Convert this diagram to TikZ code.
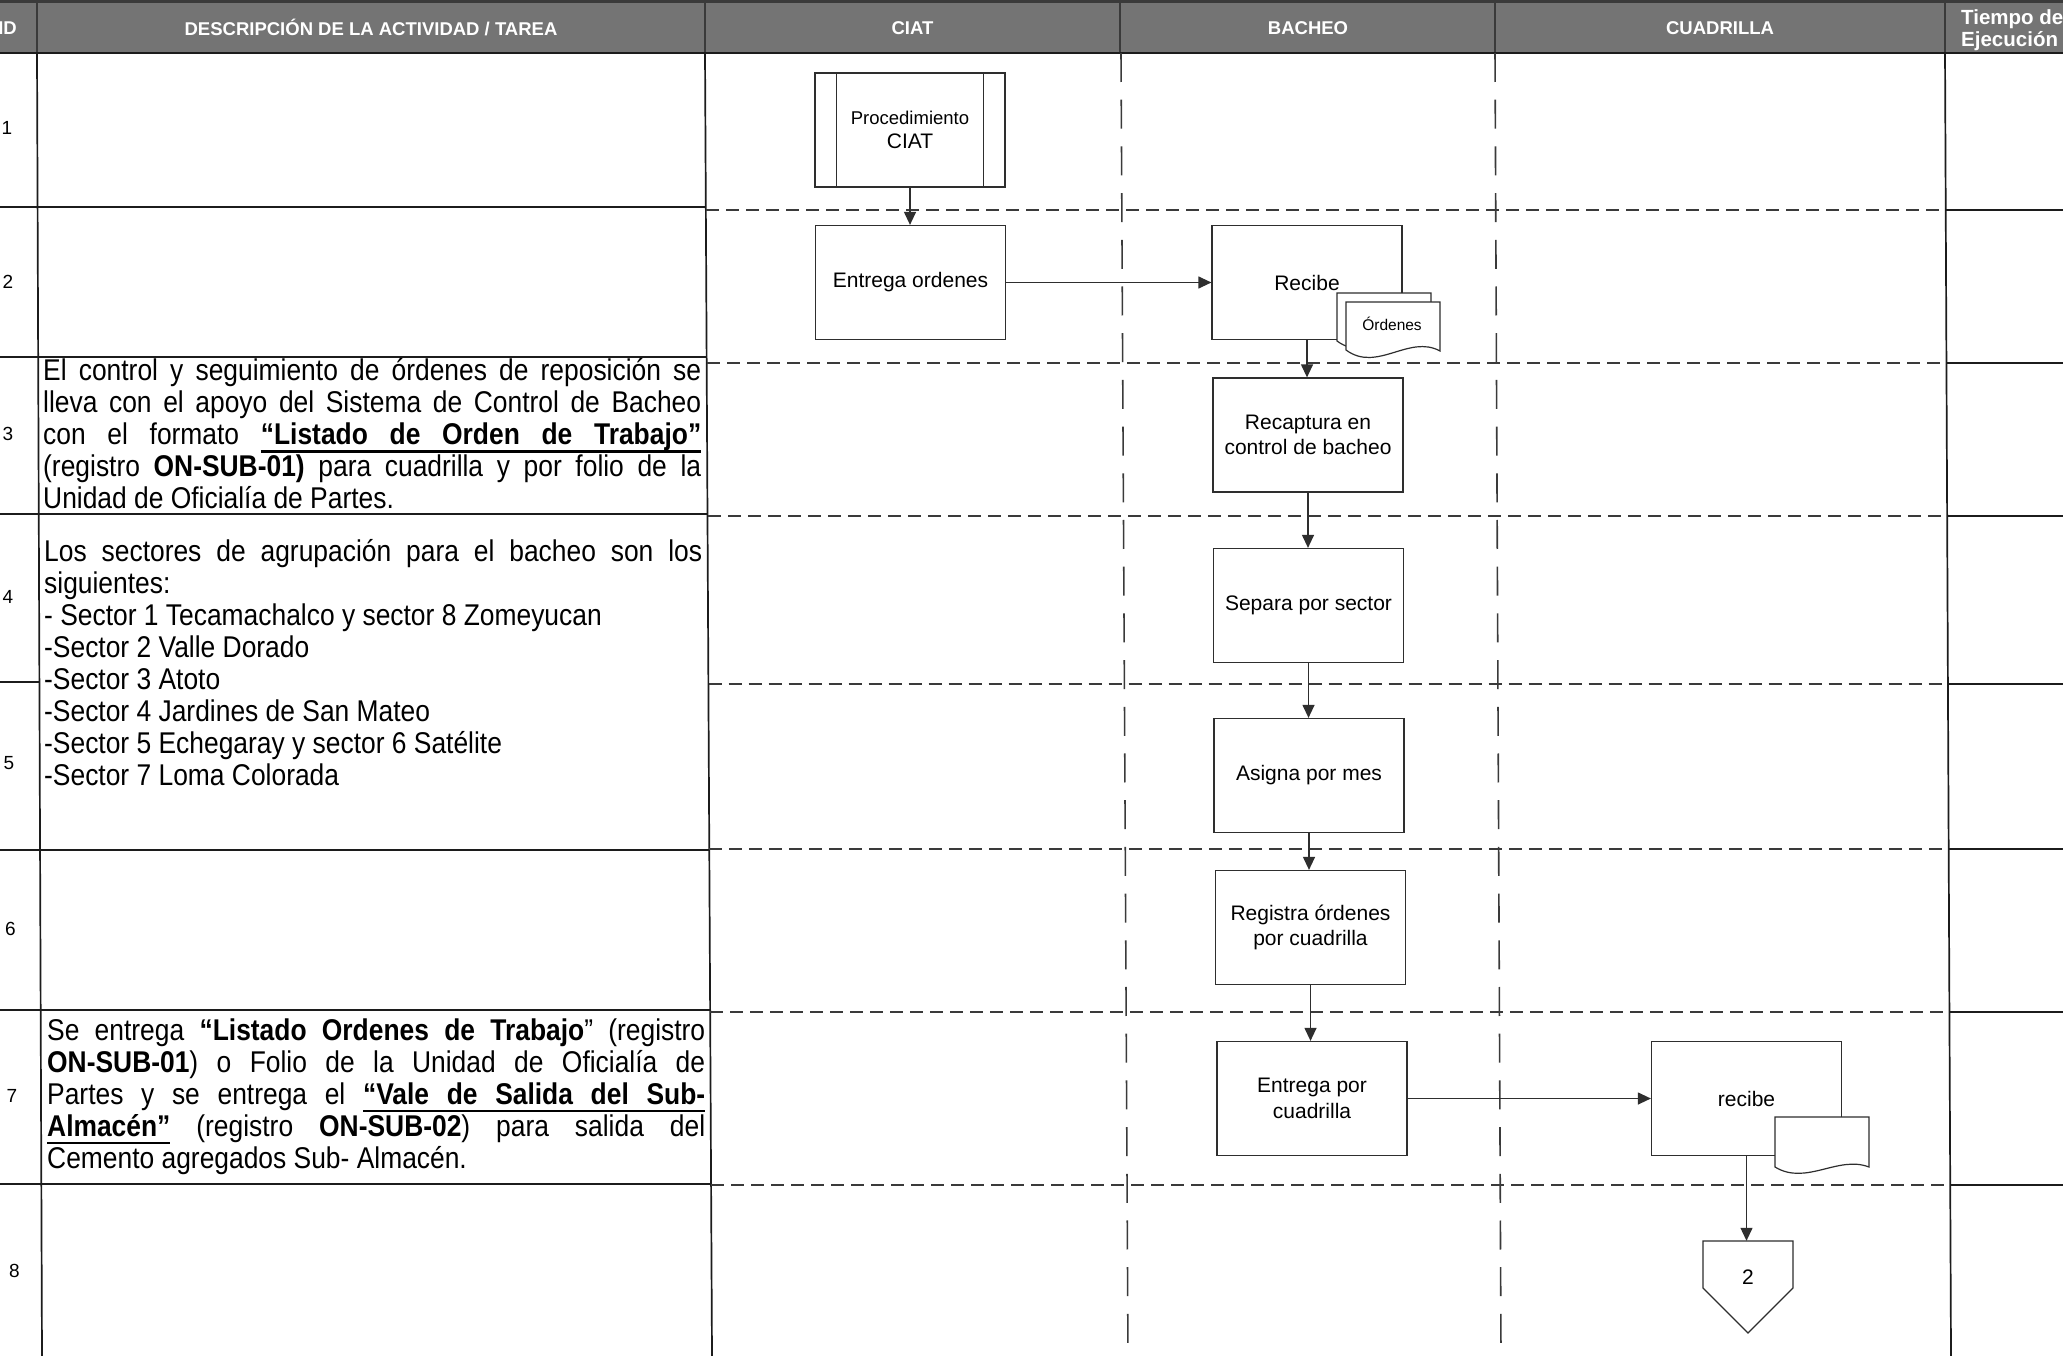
\documentclass[tikz,border=0pt]{standalone}
\usepackage{fontspec}
\usetikzlibrary{arrows.meta}
\setmainfont{Liberation Sans}
\newfontfamily\narrowfont{Liberation Sans}[FakeStretch=0.88]

\definecolor{hdrgray}{HTML}{747474}
\definecolor{hdrline}{HTML}{3A3A3A}
\definecolor{ink}{HTML}{2E2E2E}
\definecolor{rulecol}{HTML}{1C1C1C}
\definecolor{lanecol}{HTML}{3A3A3A}

% underlined word, and an underlined stretchable interword space
\newcommand{\ulw}[1]{\setbox0\hbox{#1}\rlap{\rule[-8pt]{\wd0}{2.1pt}}\box0}
\newcommand{\ulsp}{\leaders\hrule height -5.9pt depth 8pt
  \hskip\fontdimen2\font plus\fontdimen3\font minus\fontdimen4\font\relax}

% justified description cell, first baseline at the node's base anchor
\newcommand{\celltext}[1]{%
  \parbox[t]{658pt}{\narrowfont\fontsize{30}{32.0}\selectfont
    \tolerance=10000\hyphenpenalty=10000\exhyphenpenalty=10000
    #1}}

\tikzset{
  stepbox/.style={draw=ink, line width=1.25pt, fill=white, minimum width=190pt,
    minimum height=114pt, inner sep=0pt, align=center,
    font=\fontsize{21}{25.5}\selectfont},
  flow/.style={draw=ink, line width=1.25pt, -{Triangle[length=13pt,width=12pt]}},
  hdrtext/.style={text=white, font=\bfseries\fontsize{18.5}{22}\selectfont, inner sep=0pt},
  rownum/.style={font=\fontsize{19}{22}\selectfont, inner sep=0pt},
  tablerule/.style={draw=rulecol, line width=1.7pt},
  lanerule/.style={draw=lanecol, line width=1.4pt, dash pattern=on 13pt off 7pt},
  laneborder/.style={draw=lanecol, line width=1.6pt, dash pattern=on 29pt off 17.7pt},
  docshape/.style={draw=ink, line width=1.2pt, fill=white},
}

\begin{document}
\begin{tikzpicture}[x=1pt, y=-1pt]
\useasboundingbox (0,0) rectangle (2063,1356);
\fill[white] (0,0) rectangle (2063,1356);

% ---------- header band ----------
\fill[hdrgray] (0,0) rectangle (2063,53);
\draw[hdrline, line width=3pt] (0,1.5) -- (2063,1.5);
\foreach \x in {37,705,1120,1495,1945}
  \draw[hdrline, line width=1.5pt] (\x,0) -- (\x,53);
\draw[rulecol, line width=2.6pt] (0,53) -- (2063,53);

\node[hdrtext, anchor=east] (hid) at (17,28) {ID};
\node[hdrtext] (hdesc) at (371,27) {DESCRIPCIÓN DE LA ACTIVIDAD / TAREA};
\node[hdrtext] (hciat) at (912.5,28) {CIAT};
\node[hdrtext] (hbach) at (1308,28) {BACHEO};
\node[hdrtext] (hcuad) at (1720,28) {CUADRILLA};
\node[hdrtext, anchor=west, align=left, font=\bfseries\fontsize{20.5}{22.5}\selectfont]
  (htime) at (1961,30) {Tiempo de\\Ejecución};

% ---------- table grid ----------
\draw[tablerule] (37,53) -- (42,1356);
\draw[tablerule] (705,53) -- (712,1356);
\draw[tablerule] (1945,53) -- (1951,1356);
\draw[laneborder] (1121,53) -- (1128,1356);
\draw[laneborder] (1495,53) -- (1501,1356);

% row separators, description side
\foreach \y/\xe in {207/706, 357/707, 514/708, 850/709, 1010/710, 1184/711}
  \draw[tablerule] (0,\y) -- (\xe,\y);
\draw[tablerule] (0,682) -- (39.5,682);

% row separators across the swim lanes and the time column
\foreach \y/\xa/\xb in {210/706/1945.7, 363/707/1946.4, 516/708/1947.1, 684/708.5/1947.9,
                        849/709.3/1948.7, 1012/710.2/1949.4, 1185/711.1/1950.2}{
  \draw[lanerule] (\xa,\y) -- (\xb,\y);
  \draw[tablerule] (\xb,\y) -- (2063,\y);
}

% row numbers
\foreach \n/\x/\y in {1/7/128, 2/8/282, 3/8/434, 4/8/597, 5/9/763, 6/10.5/929, 7/12/1096, 8/14.5/1271}
  \node[rownum] (n\n) at (\x,\y) {\n};

% ---------- description cells ----------
\node[anchor=base west, inner sep=0pt] (d3) at (43,380.5) {\celltext{%
El control y seguimiento de órdenes de reposición se\linebreak
lleva con el apoyo del Sistema de Control de Bacheo\linebreak
con el formato \textbf{\ulw{“Listado}\ulsp\ulw{de}\ulsp\ulw{Orden}\ulsp\ulw{de}\ulsp\ulw{Trabajo”}}\linebreak
(registro \textbf{ON-SUB-01)} para cuadrilla y por folio de la\linebreak
Unidad de Oficialía de Partes.}};

\node[anchor=base west, inner sep=0pt] (d4) at (44,561) {\celltext{%
Los sectores de agrupación para el bacheo son los\linebreak
siguientes:\newline
- Sector 1 Tecamachalco y sector 8 Zomeyucan\newline
-Sector 2 Valle Dorado\newline
-Sector 3 Atoto\newline
-Sector 4 Jardines de San Mateo\newline
-Sector 5 Echegaray y sector 6 Satélite\newline
-Sector 7 Loma Colorada}};

\node[anchor=base west, inner sep=0pt] (d7) at (47,1040) {\celltext{%
Se entrega \textbf{“Listado Ordenes de Trabajo}” (registro\linebreak
\textbf{ON-SUB-01}) o Folio de la Unidad de Oficialía de\linebreak
Partes y se entrega el \textbf{\ulw{“Vale}\ulsp\ulw{de}\ulsp\ulw{Salida}\ulsp\ulw{del}\ulsp\ulw{Sub-}}\linebreak
\textbf{\ulw{Almacén”}} (registro \textbf{ON-SUB-02}) para salida del\linebreak
Cemento agregados Sub- Almacén.}};

% ---------- flow steps ----------
\node[stepbox] (pc) at (910,130) {{\fontsize{18.5}{22}\selectfont Procedimiento}\\[-1.5pt]CIAT};
\draw[draw=ink, line width=1.25pt] ([xshift=22pt]pc.north west) -- ([xshift=22pt]pc.south west);
\draw[draw=ink, line width=1.25pt] ([xshift=-22pt]pc.north east) -- ([xshift=-22pt]pc.south east);

\node[stepbox] (ec) at (910.5,282.5) {Entrega ordenes};
\node[stepbox] (rb) at (1307,282.5) {Recibe};

% stacked documents attached to "Recibe"
\path[docshape] (1337,293) -- (1431,293) -- (1431,342)
  .. controls (1400,325) and (1368,364) .. (1337,341) -- cycle;
\path[docshape] (1346,302) -- (1440,302) -- (1440,351)
  .. controls (1409,334) and (1377,373) .. (1346,350) -- cycle;
\node[font=\fontsize{15.5}{18}\selectfont, inner sep=0pt] (ord) at (1392,324) {Órdenes};

\node[stepbox] (rc) at (1308,435) {Recaptura en\\control de bacheo};
\node[stepbox] (sp) at (1308.5,605.5) {Separa por sector};
\node[stepbox] (am) at (1309,775.5) {Asigna por mes};
\node[stepbox] (ro) at (1310.5,927.5) {Registra órdenes\\por cuadrilla};
\node[stepbox] (epc) at (1312,1098.5) {Entrega por\\cuadrilla};
\node[stepbox] (rcu) at (1746.5,1098.5) {recibe};

% document attached to "recibe"
\path[docshape] (1775,1117) -- (1869,1117) -- (1869,1167)
  .. controls (1838,1155) and (1806,1186) .. (1775,1167) -- cycle;

% off-page connector
\path[docshape] (1703,1241) -- (1793,1241) -- (1793,1288) -- (1748,1333) -- (1703,1288) -- cycle;
\node[minimum width=90pt, minimum height=72pt, inner sep=0pt,
      font=\fontsize{21}{25}\selectfont] (op) at (1748,1277) {2};

% ---------- connectors ----------
\draw[flow] (pc.south) -- (pc.south |- ec.north);
\draw[flow] (ec.east) -- (rb.west);
\draw[flow] (rb.south) -- (rb.south |- rc.north);
\draw[flow] (rc.south) -- (rc.south |- sp.north);
\draw[flow] (sp.south) -- (sp.south |- am.north);
\draw[flow] (am.south) -- (am.south |- ro.north);
\draw[flow] (ro.south) -- (ro.south |- epc.north);
\draw[flow] (epc.east) -- (rcu.west);
\draw[flow] (rcu.south) -- (rcu.south |- op.north);
\end{tikzpicture}
\end{document}
